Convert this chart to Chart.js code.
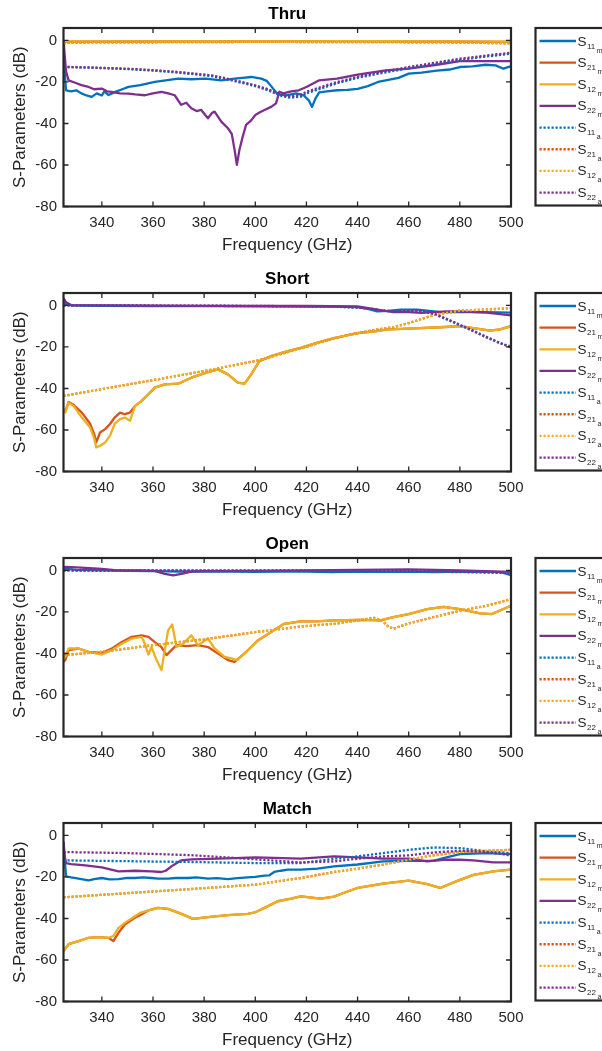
<!DOCTYPE html>
<html><head><meta charset="utf-8">
<script src="https://cdn.jsdelivr.net/npm/chart.js@4.4.1/dist/chart.umd.min.js"></script>
<style>
html,body{margin:0;padding:0;background:#fff;overflow:hidden;width:602px;height:1051px;position:relative}
canvas{position:absolute;left:0;display:block}
</style></head><body>
<canvas id="c0" width="602" height="265" style="top:0px"></canvas>
<canvas id="c1" width="602" height="265" style="top:265px"></canvas>
<canvas id="c2" width="602" height="265" style="top:530px"></canvas>
<canvas id="c3" width="602" height="265" style="top:795px"></canvas>
<script>
// ---------- tick labels ----------
const xTicks = [340,360,380,400,420,440,460,480,500];
const yTicks = [-80,-60,-40,-20,0];
const panelTitles = ['Thru','Short','Open','Match'];
const legendSubs = [['11','m'],['21','m'],['12','m'],['22','m'],['11','a'],['21','a'],['12','a'],['22','a']];

// ---------- THRU ----------
const thruS11mF = [325,326,328,330,332,334,336,338,340,341,342.6,344,345.2,348,350.4,355,360.7,365,369.8,375,380.6,386.7,391.9,395,398.4,402.3,404.5,406.2,408.8,412,416,419,421,422.2,423.5,425,428,432,436,440,444,448,452,456,460,465,471,476,480,485,490,494,497,500];
const thruS11m  = [-8,-24,-24.5,-24,-25.5,-26.5,-27.2,-25.5,-26.5,-24.5,-26.3,-25.5,-24.8,-23.5,-22.4,-21.5,-20,-19.2,-18.4,-18.7,-18.4,-19.2,-18.4,-18,-17.6,-18.4,-19.5,-22,-26,-26.5,-25.5,-26.5,-29,-32,-28,-25,-24.5,-24,-23.8,-23.3,-22,-20,-19,-18,-16,-15.5,-14.5,-14,-12.8,-12.5,-11.7,-12,-13.6,-12.4];
const thruS22mF = [325,326,327,329.6,332,334.8,337,340,342,343.9,347,350.4,353,356.8,360,363.3,366,368.5,371,373,375,377,378.9,380.5,381.5,383,384.1,386.7,389.3,390.8,391.9,392.8,393.8,395.1,396.4,398.4,400,402,403.6,406.2,408.1,409.4,411,414,417,420,425,432,440,451,460,471,480,490,500];
const thruS22m  = [0,-15,-19.2,-20.4,-21.5,-22.4,-23.5,-23.2,-24.5,-24.8,-25.5,-25.6,-26,-26.4,-25.5,-24.8,-25.5,-26.4,-31,-30,-32.7,-34,-33.5,-36,-37.5,-35,-34.3,-39.1,-42.3,-45,-52.7,-59.9,-52.7,-46.3,-40.7,-38.5,-35.9,-34.5,-33.5,-32,-30.3,-24.7,-25.5,-24.5,-24,-22.4,-19.2,-18.4,-16.5,-14.4,-13.6,-11.7,-10,-10,-10];
const thruTransF = [325,350,375,400,425,450,475,500];
const thruS21m  = [-0.6,-0.5,-0.4,-0.4,-0.3,-0.4,-0.5,-0.7];
const thruS12m  = [-0.5,-0.4,-0.4,-0.3,-0.3,-0.3,-0.4,-0.6];
const thruAnaTF = [325,327,330,350,400,450,480,500];
const thruS21a  = [-1.5,-1.2,-1,-0.9,-0.7,-0.8,-1,-1.4];
const thruS12a  = [-1.5,-1.2,-1,-0.9,-0.7,-0.8,-1,-1.4];
const thruAnaRF = [325,327,335,350,360,370,383,392,400,405,408,411,414,418,420,426,432,440,450,460,470,480,490,500];
const thruS11a  = [-12.5,-12.8,-13.1,-13.8,-14.5,-15.5,-17.2,-19.6,-22,-24,-25.6,-27,-27.6,-27,-25.5,-23,-20.6,-18,-15.6,-13.4,-11.4,-9.4,-7.8,-6.4];
const thruS22a  = [-12.5,-12.8,-13,-13.6,-14.3,-15.2,-16.8,-19.2,-21.6,-23.5,-25,-26.5,-27,-26,-24.7,-22.3,-20,-17.5,-15,-12.8,-10.8,-8.8,-7.3,-5.9];

// ---------- SHORT ----------
const shortS11mF = [325,326,328,340,360,380,400,420,430,440,444,447.7,452,456.8,463.3,468,472.3,480,490,500];
const shortS11m  = [2,0.8,0,-0.2,-0.3,-0.3,-0.4,-0.5,-0.6,-0.8,-1.6,-2.9,-2.6,-2,-2,-2.6,-3.2,-3.2,-3.2,-3.5];
const shortS22mF = [325,326,328,340,360,380,400,420,440,447.7,454,460,465,469.7,475,480,490.5,500];
const shortS22m  = [3.5,1.5,0.2,0,-0.1,-0.2,-0.2,-0.2,-0.5,-2,-3.2,-3.2,-3.6,-3.2,-2.9,-2.9,-3.5,-4.8];
const shortTransF = [325,325.7,327,329,332.2,335.4,337,337.8,339.3,341.3,343.2,345,347.1,349,351,353,355.6,358,360.7,364.6,369.8,375,380.9,385.4,389.3,393.2,395.8,398.4,401.6,406.2,412.7,417.8,424,430.8,440,447.7,452.2,460,472.3,480,485.3,491.8,495.7,500];
const shortS21m  = [-50,-51,-46.5,-48,-51.6,-57,-62,-66,-61.2,-59.6,-57.1,-54,-51.6,-52.4,-51.6,-48.4,-46,-43,-39.6,-38,-37.7,-34.8,-32.4,-30.8,-33.2,-37.2,-37.7,-33.2,-26.8,-24.4,-22,-20.4,-18,-15.7,-13.3,-12.3,-11.5,-11.2,-10.5,-10,-10.9,-12.1,-11.5,-10];
const shortS12m  = [-50,-51.6,-46.8,-48.5,-54,-58.8,-64,-68.4,-67.6,-66,-62.7,-57.1,-54.8,-54,-55.6,-48.4,-46,-43,-39.6,-38,-37.7,-34.8,-32.4,-30.8,-33.2,-37.2,-37.7,-33.2,-26.8,-24.4,-22,-20.4,-18,-15.7,-13.3,-12.3,-11.5,-11.2,-10.5,-10,-10.9,-12.1,-11.5,-10];
const shortAnaTF = [325,340,360,380,400,418,431,440,448,454,460,470,480,490,500];
const shortS21a  = [-43.6,-40.3,-36,-31.6,-26.8,-20.7,-15.7,-13.3,-11.5,-10.5,-8.5,-4.5,-2.5,-2,-1.3];
const shortS12a  = [-43.6,-40.3,-36,-31.6,-26.8,-20.7,-15.7,-13.3,-11.5,-10.5,-8.5,-4.5,-2.5,-2,-1.3];
const shortAnaRF = [325,350,400,430,440,445,450,455,460,465,470,475,480,485,490,495,500];
const shortS11a  = [0,-0.1,-0.3,-0.6,-1,-1.6,-2.6,-2.8,-2.4,-2.6,-4.2,-6.8,-9.5,-12.3,-15.2,-17.9,-19.8];
const shortS22a  = [0,0,-0.2,-0.5,-1,-1.5,-2.5,-2.8,-2.5,-2.5,-4,-6.5,-9.3,-12,-14.9,-17.6,-20.4];

// ---------- OPEN ----------
const openS11mF = [325,330,340,350,360,370,380,390,400,410,420,430,440,450,460,470,480,490,496,500];
const openS11m  = [1,0.3,0,-0.2,-0.3,-0.5,-0.4,-0.6,-0.7,-0.5,-0.6,-0.8,-0.5,-0.7,-0.6,-0.8,-0.5,-0.7,-0.8,-2.3];
const openS22mF = [325,326,330,340,345,355,360.7,364.6,367.9,371.1,375,380,400,420,440,460,480,490,500];
const openS22m  = [1.5,1.7,1.5,0.8,0.2,0,-0.2,-1.6,-2.4,-1.6,-0.6,-0.3,-0.2,0,0.3,0.5,0,-0.3,-0.7];
const openS21mF = [325,325.7,327,330.9,334.8,340,343.9,347.8,351.7,355.6,358.2,360.7,363.3,365.3,367.2,369.2,373.1,377.6,381.5,385.4,389.3,391.9,395.8,401,406.2,411.3,417.8,424,430.8,440,449,454,460,467.2,473.6,480,487.9,492.5,500];
const openS21m  = [-44,-43.2,-38.4,-37.6,-39.2,-39.7,-37.6,-34.5,-32,-31.3,-32,-34.5,-36.9,-40.8,-38.4,-36,-36.5,-36,-36.9,-40,-43.2,-44,-40,-33.7,-29.7,-25.7,-24.5,-24.5,-24.1,-23.8,-24.1,-22.5,-21,-18.6,-17.5,-18.6,-20.7,-21,-17];
const openS12mF = [325,325.7,327,330.9,334.8,340,343.9,347.8,351.7,355.6,356.8,358.2,359.4,361.4,363.3,364.6,365.9,367.5,369.2,371.8,375,377.6,381.5,384.1,388,390.6,392.9,395.8,401,406.2,411.3,417.8,424,430.8,440,449,454,460,467.2,473.6,480,487.9,492.5,500];
const openS12m  = [-42,-41.6,-37.6,-37.6,-39.2,-40.5,-38.4,-35.3,-32.8,-32,-35.3,-40.5,-36.9,-43.2,-48,-38.4,-28.9,-26,-36.9,-35.3,-31.3,-36,-32.8,-37.6,-41.6,-42.4,-43.2,-40,-33.7,-29.7,-25.7,-24.5,-24.5,-24.1,-23.8,-24.1,-22.5,-21,-18.6,-17.5,-18.6,-20.7,-21,-17];
const openAnaTF = [325,340,360,380,400,418,430.8,440,446.4,449.6,452,454,459.4,469.7,480,490.5,500];
const openS21a  = [-40.8,-39.2,-36,-33.2,-29.7,-27,-25.7,-24.1,-22.8,-24.1,-27,-28.1,-25.7,-22.5,-19.4,-17,-13.8];
const openS12a  = [-40.8,-39.2,-36,-33.2,-29.7,-27,-25.7,-24.1,-22.8,-24.1,-27,-28.1,-25.7,-22.5,-19.4,-17,-13.8];
const openAnaRF = [325,400,450,500];
const openS11a  = [0,-0.2,-0.2,-1.2];
const openS22a  = [0,0,0,-1];

// ---------- MATCH ----------
const matchS11mF = [325,325.5,326,328,330.9,334.8,337,340,343,346.5,350,352.9,356,359.4,362,365.9,369,373.7,377,381.5,385,389.3,393,397.1,400,403.6,405.5,407.4,410,412.7,417.8,424.3,430.8,440,450,460,469.7,473.6,480,490.5,500];
const matchS11m  = [-5,-12,-19.7,-20.2,-20.8,-21.6,-21,-20.5,-21.2,-21,-20.4,-20.5,-20.2,-20.5,-20.8,-20.8,-20.5,-20.5,-20.2,-20.8,-20.6,-21,-20.6,-20.2,-20,-19.4,-19.2,-17.6,-17,-16.5,-16.5,-16,-14.9,-14,-12.5,-12.2,-12.2,-10.9,-9,-8.5,-9];
const matchS22mF = [325,325.5,326,328,333.5,340,346.5,352.9,359.4,363.3,365,367.2,369,371.1,375,378.9,391.9,400,417.8,430.8,440,450,460,467.2,473.6,480,485.3,493.1,500];
const matchS22m  = [-3,-10,-13.3,-13.8,-14.4,-15.4,-17.3,-17,-17.3,-17.6,-17,-14.9,-13.5,-12,-11.5,-11.4,-10.9,-10.6,-11.2,-10.1,-10.6,-11.2,-11.2,-12.5,-11.7,-11.7,-12,-13,-13];
const matchTransF = [325,327,330.9,334.8,338.7,342.6,344.5,346.5,349,352.9,354.9,358.2,362,365.9,371.1,375.7,381.5,389.3,397.1,400,403.6,408.8,414,417.8,425.6,430.8,435,440,450,460,467.2,472.3,478.8,485.3,493.1,500];
const matchS21m  = [-55.7,-52.4,-50.9,-49.3,-49,-49.3,-50.9,-46.9,-42.9,-39.7,-38.4,-36.1,-34.9,-35.4,-37.8,-40.2,-39.4,-38.4,-37.8,-37,-34.9,-31.7,-30.4,-29.3,-30.4,-29.5,-27.5,-25.3,-23.2,-21.8,-23.5,-25.3,-22,-19,-17.3,-16.5];
const matchS12m  = [-55.7,-52.4,-50.9,-49.3,-49,-49.3,-48.5,-44.5,-42.1,-38.9,-37.3,-36.1,-34.9,-35.4,-37.8,-40.2,-39.4,-38.4,-37.8,-37,-34.9,-31.7,-30.4,-29.3,-30.4,-29.5,-27.5,-25.3,-23.2,-21.8,-23.5,-25.3,-22,-19,-17.3,-16.5];
const matchAnaF  = [325,350,375,400,417.8,430.8,440,450,460,469.7,480,490.5,500];
const matchS21a  = [-29.8,-27.8,-25.8,-23.7,-20.5,-17.6,-16,-14,-11.7,-9.6,-8,-7.4,-6.9];
const matchS12a  = [-29.8,-27.8,-25.8,-23.7,-20.5,-17.6,-16,-14,-11.7,-9.6,-8,-7.4,-6.9];
const matchS11a  = [-12,-12.4,-12.8,-13.3,-13.3,-11.2,-10.1,-8.5,-6.9,-5.8,-6.1,-7.7,-8.5];
const matchS22a  = [-8,-8.5,-9.5,-11.5,-13,-12.5,-11.2,-10.1,-9.6,-8.2,-7.4,-8,-9.6];

// ---------- assembly ----------
const panels = [
  [[thruS11mF,thruS11m],[thruTransF,thruS21m],[thruTransF,thruS12m],[thruS22mF,thruS22m],
   [thruAnaRF,thruS11a],[thruAnaTF,thruS21a],[thruAnaTF,thruS12a],[thruAnaRF,thruS22a]],
  [[shortS11mF,shortS11m],[shortTransF,shortS21m],[shortTransF,shortS12m],[shortS22mF,shortS22m],
   [shortAnaRF,shortS11a],[shortAnaTF,shortS21a],[shortAnaTF,shortS12a],[shortAnaRF,shortS22a]],
  [[openS11mF,openS11m],[openS21mF,openS21m],[openS12mF,openS12m],[openS22mF,openS22m],
   [openAnaRF,openS11a],[openAnaTF,openS21a],[openAnaTF,openS12a],[openAnaRF,openS22a]],
  [[matchS11mF,matchS11m],[matchTransF,matchS21m],[matchTransF,matchS12m],[matchS22mF,matchS22m],
   [matchAnaF,matchS11a],[matchAnaF,matchS21a],[matchAnaF,matchS12a],[matchAnaF,matchS22a]]
];

const COLORS = ['#0072BD','#D95319','#EDB120','#7E2F8E'];
const AXC = '#262626';
const FONT = '"Liberation Sans", Arial, Helvetica, sans-serif';
const DOT = [2.2,1.8];
const LW = 2.3;

const matlabPlugin = {
  id: 'matlabBox',
  afterDraw(chart, args, opts) {
    const ctx = chart.ctx;
    const {left, top, right, bottom} = chart.chartArea;
    const xs = chart.scales.x, ys = chart.scales.y;
    ctx.save();
    // inward ticks on all sides
    ctx.strokeStyle = AXC; ctx.lineWidth = 1.3; ctx.setLineDash([]);
    ctx.beginPath();
    xTicks.forEach(v => { const p = xs.getPixelForValue(v);
      ctx.moveTo(p, bottom); ctx.lineTo(p, bottom - 5);
      ctx.moveTo(p, top); ctx.lineTo(p, top + 5); });
    yTicks.forEach(v => { const p = ys.getPixelForValue(v);
      ctx.moveTo(left, p); ctx.lineTo(left + 5, p);
      ctx.moveTo(right, p); ctx.lineTo(right - 5, p); });
    ctx.stroke();
    ctx.lineWidth = 2.2;
    ctx.strokeRect(left, top, right - left, bottom - top);
    // title
    ctx.fillStyle = '#000';
    ctx.font = 'bold 17px ' + FONT;
    ctx.textAlign = 'center'; ctx.textBaseline = 'middle';
    ctx.fillText(opts.title, (left + right) / 2, 14.5);
    // legend
    const lx = 535.5, ly = 28, lh = 177.5;
    ctx.fillStyle = '#fff';
    ctx.fillRect(lx, ly, 80, lh);
    ctx.strokeStyle = AXC; ctx.lineWidth = 2.2;
    ctx.strokeRect(lx, ly, 80, lh);
    ctx.textAlign = 'left'; ctx.textBaseline = 'alphabetic';
    for (let i = 0; i < 8; i++) {
      const y = 41 + i * 21.65;
      ctx.strokeStyle = COLORS[i % 4];
      ctx.lineWidth = LW;
      ctx.setLineDash(i >= 4 ? DOT : []);
      ctx.beginPath(); ctx.moveTo(539.5, y); ctx.lineTo(576, y); ctx.stroke();
      ctx.setLineDash([]);
      ctx.fillStyle = AXC;
      ctx.font = '13.5px ' + FONT;
      ctx.fillText('S', 577.5, y + 4.5);
      const sw = ctx.measureText('S').width;
      ctx.font = '8px ' + FONT;
      ctx.fillText(legendSubs[i][0], 577.5 + sw + 0.5, y + 7.5);
      const dw = ctx.measureText(legendSubs[i][0]).width;
      ctx.font = '7px ' + FONT;
      ctx.fillText(legendSubs[i][1], 577.5 + sw + 0.5 + dw + 1.5, y + 11.5);
    }
    ctx.restore();
  }
};

function makeChart(id, p) {
  const datasets = panels[p].map((s, i) => ({
    label: 'S' + legendSubs[i][0] + legendSubs[i][1],
    data: s[0].map((f, k) => ({x: f, y: s[1][k]})),
    borderColor: COLORS[i % 4],
    backgroundColor: COLORS[i % 4],
    borderWidth: LW,
    borderDash: i >= 4 ? DOT : [],
    borderJoinStyle: 'round',
    pointRadius: 0,
    tension: 0,
    fill: false,
    order: 7 - i
  }));
  new Chart(document.getElementById(id), {
    type: 'line',
    data: {datasets},
    options: {
      responsive: false, animation: false, devicePixelRatio: 1,
      layout: {padding: {left: 0, right: 91, top: 28, bottom: 8.5}},
      plugins: {legend: {display: false}, tooltip: {enabled: false},
                matlabBox: {title: panelTitles[p]}},
      scales: {
        x: {type: 'linear', min: 325, max: 500,
            grid: {display: false, drawTicks: false}, border: {display: false},
            afterBuildTicks: sc => { sc.ticks = xTicks.map(v => ({value: v})); },
            afterFit: sc => { sc.height = 50; },
            ticks: {color: AXC, font: {family: FONT, size: 15, lineHeight: 1.2}, padding: 7.5, maxRotation: 0, autoSkip: false},
            title: {display: true, text: 'Frequency (GHz)', color: AXC,
                    font: {family: FONT, size: 17, lineHeight: 1.2}, padding: {top: 0, bottom: 1.3}}},
        y: {type: 'linear', min: -80, max: 6,
            grid: {display: false, drawTicks: false}, border: {display: false},
            afterBuildTicks: sc => { sc.ticks = yTicks.map(v => ({value: v})); },
            afterFit: sc => { sc.width = 63.5; },
            ticks: {color: AXC, font: {family: FONT, size: 15, lineHeight: 1.2}, padding: 6.5, autoSkip: false},
            title: {display: true, text: 'S-Parameters (dB)', color: AXC,
                    font: {family: FONT, size: 17, lineHeight: 1.2}, padding: {top: 10, bottom: 0}}}
      }
    },
    plugins: [matlabPlugin]
  });
}
['c0','c1','c2','c3'].forEach((id, p) => makeChart(id, p));
</script>
</body></html>
